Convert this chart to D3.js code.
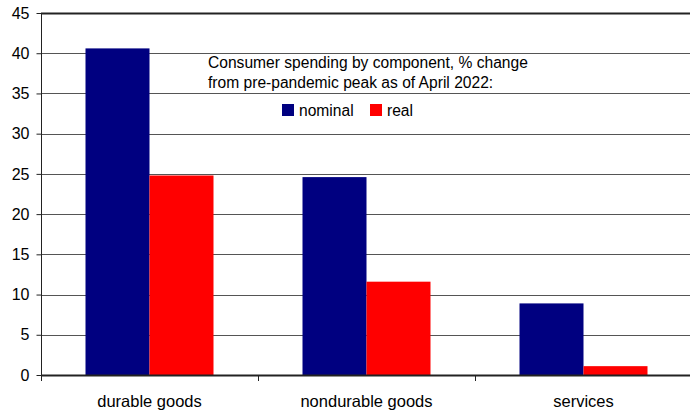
<!DOCTYPE html>
<html><head><meta charset="utf-8">
<script src="https://cdn.jsdelivr.net/npm/d3@7"></script>
<style>body{margin:0;background:#fff}svg{display:block;font-family:"Liberation Sans",Arial,sans-serif}</style>
</head><body><svg id="c" width="690" height="412"></svg>
<script>
const categories = ["durable goods", "nondurable goods", "services"];
const seriesNames = ["nominal", "real"];
const nominal = [40.6, 24.6, 8.9];
const real = [24.8, 11.6, 1.1];
const yTicks = [0, 5, 10, 15, 20, 25, 30, 35, 40, 45];
const noteLines = ["Consumer spending by component, % change", "from pre-pandemic peak as of April 2022:"];
const colors = {nominal: "#000080", real: "#ff0000"};

const svg = d3.select("#c");
const x0 = d3.scaleBand().domain(categories).range([41, 692]).paddingInner(0).paddingOuter(0);
const x1 = d3.scaleBand().domain(seriesNames).range([44.5, 217 - 44.5]);
const y = d3.scaleLinear().domain([0, 45]).range([375, 13]);

// gridlines
svg.append("g").selectAll("line").data(yTicks.filter(d => d > 0)).join("line")
  .attr("x1", 41).attr("x2", 690)
  .attr("y1", d => Math.round(y(d)) + 0.5).attr("y2", d => Math.round(y(d)) + 0.5)
  .attr("stroke", d => d === 45 ? "#222" : "#555").attr("stroke-width", d => d === 45 ? 2 : 1);

const data = categories.map((c, i) => ({c, vals: [{k: "nominal", v: nominal[i]}, {k: "real", v: real[i]}]}));
svg.append("g").selectAll("g").data(data).join("g")
  .attr("transform", d => `translate(${x0(d.c)},0)`)
  .selectAll("rect").data(d => d.vals).join("rect")
  .attr("x", d => x1(d.k)).attr("width", x1.bandwidth())
  .attr("y", d => y(d.v)).attr("height", d => y(0) - y(d.v))
  .attr("fill", d => colors[d.k]);

// y axis
const ya = svg.append("g").attr("transform", "translate(41.5,0)")
  .call(d3.axisLeft(y).tickValues(yTicks).tickSize(5).tickPadding(7).tickFormat(d3.format("d")));
ya.select(".domain").attr("stroke", "#222").attr("d", `M0,${y(45)}V${y(0)}`);
ya.selectAll(".tick line").attr("stroke", "#222");
ya.selectAll("text").attr("font-size", 16).attr("fill", "#000").attr("font-family", "Liberation Sans, Arial, sans-serif");

// x axis
const xa = svg.append("g").attr("transform", `translate(0,${Math.round(y(0)) + 0.5})`)
  .call(d3.axisBottom(x0).tickSize(0).tickPadding(20));
xa.select(".domain").attr("stroke", "#222").attr("stroke-width", 2).attr("d", "M41,0H690");
xa.selectAll("text").attr("font-size", 16.5).attr("fill", "#000").attr("font-family", "Liberation Sans, Arial, sans-serif");
// category separator ticks
svg.append("g").selectAll("line").data([41, ...categories.slice(1).map(c => x0(c))]).join("line")
  .attr("x1", d => Math.round(d) + 0.5).attr("x2", d => Math.round(d) + 0.5)
  .attr("y1", y(0)).attr("y2", y(0) + 6).attr("stroke", "#222");

// note
svg.append("text").attr("x", 208).attr("y", 68).attr("font-size", 15.6).attr("fill", "#000")
  .selectAll("tspan").data(noteLines).join("tspan")
  .attr("x", 208).attr("dy", (d, i) => i ? 20 : 0).text(d => d);

// legend
const lg = svg.append("g").selectAll("g").data(seriesNames).join("g")
  .attr("transform", (d, i) => `translate(${i ? 370 : 282},104)`);
lg.append("rect").attr("width", 12).attr("height", 12).attr("fill", d => colors[d]);
lg.append("text").attr("x", 17).attr("y", 12).attr("font-size", 15.6).text(d => d);
</script></body></html>
